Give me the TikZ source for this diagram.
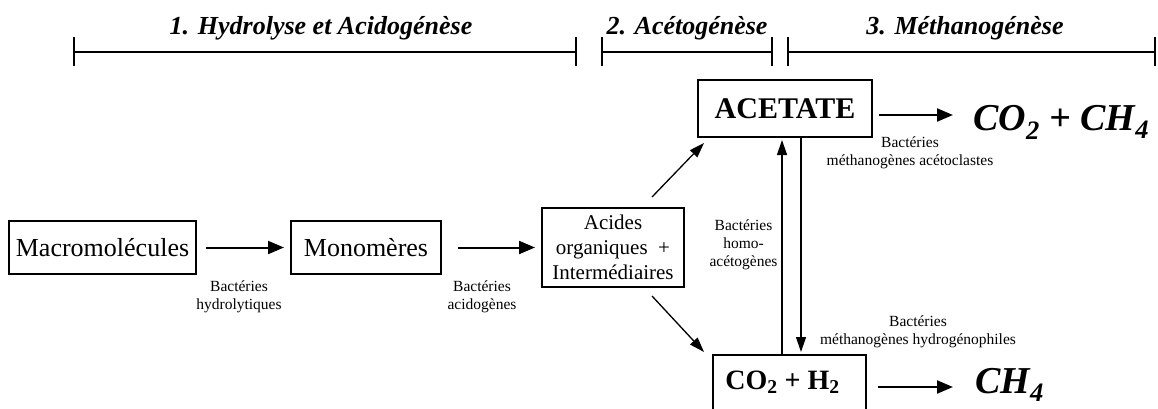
\documentclass[tikz,border=0pt]{standalone}
\usepackage{fontspec}
\setmainfont{Liberation Serif}
\usetikzlibrary{arrows.meta,positioning}

\begin{document}
\begin{tikzpicture}[
    x=1pt, y=-1pt,
    node distance=93pt,
    box/.style={rectangle, draw=black, line width=2pt, inner sep=0pt, align=center},
    lbl/.style={align=center, inner sep=0pt, font=\fontsize{15.5}{18}\selectfont},
    phase/.style={{Bar[width=29pt]}-{Bar[width=29pt]}, line width=2pt},
    ttl/.style={anchor=base, inner sep=0pt, font=\fontsize{26}{30}\selectfont\bfseries\itshape},
    prod/.style={anchor=base west, inner sep=0pt, font=\fontsize{38}{44}\selectfont\bfseries\itshape},
    arrow/.style={-{Triangle[length=16pt, width=13pt]}, line width=2pt},
    tarrow/.style={-{Triangle[length=15pt, width=10pt]}, line width=1.3pt}
]
    \useasboundingbox (0,0) rectangle (1158,409);
    \clip (0,0) rectangle (1158,409);

    % phases
    \coordinate (p1a) at (73,52);
    \coordinate (p1b) at (577,52);
    \coordinate (p2a) at (601,52);
    \coordinate (p2b) at (773,52);
    \coordinate (p3a) at (787,52);
    \coordinate (p3b) at (1156,52);
    \draw [phase] (p1a) -- (p1b);
    \draw [phase] (p2a) -- (p2b);
    \draw [phase] (p3a) -- (p3b);
    \node [ttl] (t1) at (321,35) {1. Hydrolyse et Acidogénèse};
    \node [ttl] (t2) at (687,35) {2. Acétogénèse};
    \node [ttl] (t3) at (965,35) {3. Méthanogénèse};

    % chain
    \node [box, minimum width=187pt, minimum height=53pt, font=\fontsize{26}{30}\selectfont] (macro) at (102.5,247.5) {Macromolécules};
    \node [box, minimum width=150pt, minimum height=53pt, font=\fontsize{26}{30}\selectfont, right=of macro] (mono) {Monomères};
    \node [box, minimum width=142pt, minimum height=79pt, font=\fontsize{21}{25}\selectfont, right=99pt of mono] (acides) {Acides\\organiques~~+\\Intermédiaires};
    \node [box, minimum width=174pt, minimum height=57pt, font=\fontsize{30}{36}\selectfont\bfseries] (acetate) at (785,108.5) {ACETATE};
    \node [box, anchor=north, minimum width=153pt, inner ysep=14pt, text height=20pt, text depth=30pt, font=\fontsize{28}{34}\selectfont\bfseries] (gaz) at (789.5,354) {CO\textsubscript{2} + H\textsubscript{2}\hspace*{14pt}};
    \node [prod] (prodA) at (973,130) {CO\textsubscript{2} + CH\textsubscript{4}};
    \node [prod] (prodB) at (975,393) {CH\textsubscript{4}};

    \draw [arrow, shorten <=9pt, shorten >=6pt] (macro) -- (mono);
    \draw [arrow, shorten <=16pt, shorten >=6pt] (mono) -- (acides);
    \draw [tarrow] ([xshift=-33pt, yshift=10pt]acides.north east) -- ([xshift=7pt, yshift=-5pt]acetate.south west);
    \draw [tarrow] ([xshift=-33pt, yshift=-8pt]acides.south east) -- ([xshift=-8pt, yshift=2pt]gaz.north west);
    \draw [tarrow, shorten >=2pt] ([xshift=-7.5pt]gaz.north) -- ([xshift=-3pt]acetate.south);
    \draw [tarrow, shorten >=2pt] ([xshift=16pt]acetate.south) -- ([xshift=11.5pt]gaz.north);
    \draw [arrow, shorten <=6pt, shorten >=20pt] ([yshift=-6.5pt]acetate.east) -- ([yshift=-6.5pt]acetate.east -| prodA.west);
    \draw [arrow, shorten <=11pt, shorten >=22pt] ([yshift=7pt]gaz.east) -- ([yshift=7pt]gaz.east -| prodB.west);

    % bacteria
    \node [lbl] (l1) at (239,297) {Bactéries\\hydrolytiques};
    \node [lbl] (l2) at (482,297) {Bactéries\\acidogènes};
    \node [lbl] (l3) at (743.5,245) {Bactéries\\homo-\\acétogènes};
    \node [lbl] (l4) at (910,153) {Bactéries\\méthanogènes acétoclastes};
    \node [lbl] (l5) at (918,332) {Bactéries\\méthanogènes hydrogénophiles};
\end{tikzpicture}
\end{document}
